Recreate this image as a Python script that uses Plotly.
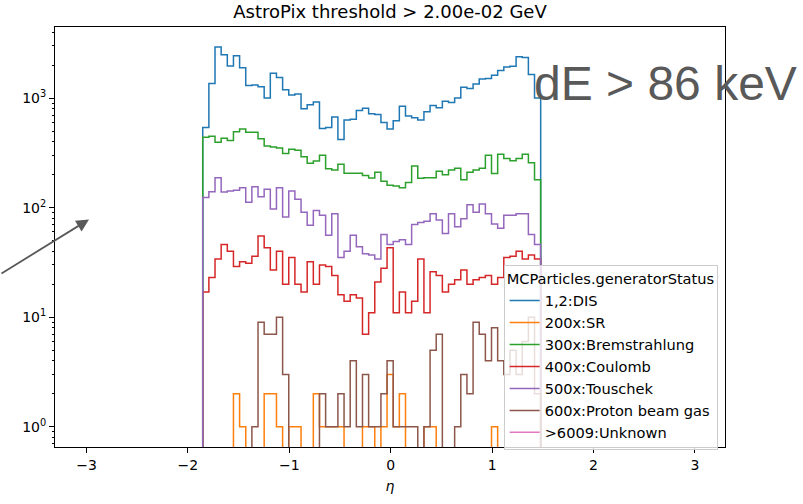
import numpy as np
import plotly.graph_objects as go

# ---- data ----
eta_lo, eta_hi = -1.854, 1.479
n_bins = 55

labels = ["1,2:DIS", "200x:SR", "300x:Bremstrahlung", "400x:Coulomb",
          "500x:Touschek", "600x:Proton beam gas", ">6009:Unknown"]
colors = ["#1f77b4", "#ff7f0e", "#2ca02c", "#d62728", "#9467bd", "#8c564b", "#e377c2"]

dis = [540, 1360, 2930, 2490, 1960, 2440, 1890, 1300, 1320, 1270, 1000, 1690, 1540, 1190,
       1070, 1090, 798, 871, 920, 528, 540, 672, 419, 632, 640, 771, 809, 720, 710, 598,
       521, 620, 843, 686, 662, 632, 750, 855, 815, 934, 910, 1000, 1254, 1225, 1343,
       1490, 1510, 1615, 1790, 1920, 1950, 2390, 2350, 1640, 1000]
sr = [0, 0, 0, 0, 0, 2, 1, 0, 0, 0, 2, 2, 1, 0, 1, 1, 0, 0, 2, 1, 1, 1, 1, 0, 0,
      0, 1, 1, 0, 1, 3, 1, 2, 0, 0, 0, 1, 1, 0, 0, 0, 0, 0, 0, 0, 0, 0, 1, 0, 0,
      0, 0, 0, 0, 0]
brems = [440, 449, 396, 431, 411, 494, 522, 487, 487, 425, 365, 358, 351, 312, 341, 334,
         291, 254, 267, 301, 226, 221, 249, 206, 206, 206, 197, 186, 210, 174, 160, 158,
         152, 170, 240, 185, 187, 187, 215, 200, 221, 229, 180, 210, 221, 229, 301, 205,
         307, 281, 268, 281, 307, 257, 180]
coulomb = [17, 23, 34, 46, 40, 29, 32, 31, 36, 55, 43, 27, 40, 20, 35, 20, 17, 32, 20, 30,
           29, 24, 16, 14, 16, 15, 7, 11, 21, 28, 43, 11, 17, 11, 14, 34, 11, 26, 24, 17,
           20, 22, 27, 20, 22, 23, 24, 20, 23, 35, 36, 40, 34, 37, 34]
touschek = [124, 140, 187, 139, 142, 144, 152, 112, 155, 126, 147, 97, 152, 82, 142, 119,
            91, 69, 94, 85, 56, 88, 35, 40, 56, 44, 38, 37, 34, 57, 46, 49, 51, 46, 70, 73,
            75, 88, 77, 58, 88, 67, 79, 106, 91, 108, 88, 71, 65, 85, 85, 88, 88, 57, 46]
proton = [0, 0, 0, 0, 0, 0, 0, 0, 1, 9, 7, 7, 10, 3, 0, 0, 0, 0, 0, 2, 1, 1, 2, 1, 4,
          1, 3, 1, 1, 2, 4, 1, 1, 1, 1, 0, 1, 5, 7, 0, 0, 1, 3, 2, 9, 7, 4, 8, 4, 3,
          5, 3, 6, 10, 2]
unknown = [0] * n_bins

series = [dis, sr, brems, coulomb, touschek, proton, unknown]

x_ticks = [-3, -2, -1, 0, 1, 2, 3]
y_ticks = [1, 10, 100, 1000]
y_ticktext = ["10<sup>0</sup>", "10<sup>1</sup>", "10<sup>2</sup>", "10<sup>3</sup>"]

# ---- figure ----
edges = np.linspace(eta_lo, eta_hi, n_bins + 1)
FLOOR = 1e-2  # empty bins fall below the visible log range (like matplotlib)


def step_xy(vals):
    v = [float(c) if c > 0 else FLOOR for c in vals]
    xs = [edges[0]] + list(edges) + [edges[-1]]
    ys = [FLOOR] + v + [v[-1]] + [FLOOR]
    return xs, ys


fig = go.Figure()
for name, col, vals in zip(labels, colors, series):
    xs, ys = step_xy(vals)
    fig.add_trace(go.Scatter(x=xs, y=ys, mode="lines", name=name,
                             line=dict(color=col, width=1.5, shape="hv"),
                             hoverinfo="skip"))

minor_vals = []
for dec in [0.1, 1, 10, 100, 1000]:
    for m in range(2, 10):
        minor_vals.append(m * dec)

fig.update_layout(
    width=803, height=504,
    margin=dict(l=55, r=78, t=27, b=47),
    paper_bgcolor="white", plot_bgcolor="white",
    font=dict(family="DejaVu Sans", size=14, color="black"),
    title=dict(text="AstroPix threshold > 2.00e-02 GeV", x=0.5, xref="paper",
               xanchor="center", y=1 - 12 / 504, yref="container", yanchor="middle",
               font=dict(size=18, color="black")),
    showlegend=True,
    legend=dict(x=0.989, xanchor="right", y=-0.006, yanchor="bottom",
                bgcolor="rgba(255,255,255,0.8)", bordercolor="#cccccc", borderwidth=1,
                font=dict(size=14.6, color="black"), traceorder="normal",
                title=dict(text="MCParticles.generatorStatus", font=dict(size=14.6))),
    xaxis=dict(range=[-3.311, 3.297], tickvals=x_ticks,
               ticktext=[("\u2212" + str(-t)) if t < 0 else str(t) for t in x_ticks],
               showline=True, mirror=True, linecolor="black", linewidth=1,
               ticks="outside", ticklen=5, tickwidth=1, tickcolor="black",
               showgrid=False, zeroline=False,
               title=dict(text="<i>η</i>", standoff=9, font=dict(size=14))),
    yaxis=dict(type="log", range=[-0.185, 3.649], tickvals=y_ticks, ticktext=y_ticktext,
               showline=True, mirror=True, linecolor="black", linewidth=1,
               ticks="outside", ticklen=5, tickwidth=1, tickcolor="black",
               showgrid=False, zeroline=False,
               minor=dict(tickvals=minor_vals, ticks="outside", ticklen=2.5,
                          tickwidth=0.8, tickcolor="black", showgrid=False)),
)

fig.add_annotation(text="dE > 86 keV", xref="paper", yref="paper",
                   x=(532 - 55) / 670, y=(456.7 - 85) / 429.4,
                   xanchor="left", yanchor="middle", showarrow=False,
                   font=dict(family="Liberation Sans", size=48, color="#595959"))

fig.add_annotation(text="", xref="paper", yref="paper",
                   x=(89 - 55) / 670, y=(456.7 - 224) / 429.4,
                   ax=-96, ay=55, axref="pixel", ayref="pixel",
                   showarrow=True, arrowhead=2, arrowsize=1.4, arrowwidth=1.8,
                   arrowcolor="#595959", standoff=0)

fig.write_html("out.html")
